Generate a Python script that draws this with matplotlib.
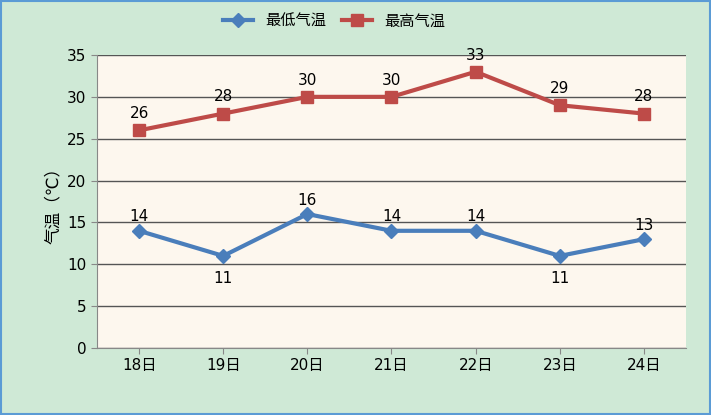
import matplotlib.pyplot as plt
from matplotlib.patches import Rectangle

plt.rcParams['font.family'] = ['DejaVu Sans', 'Noto Sans CJK SC']

days = ['18日', '19日', '20日', '21日', '22日', '23日', '24日']
low = [14, 11, 16, 14, 14, 11, 13]
high = [26, 28, 30, 30, 33, 29, 28]
low_below = [False, True, False, False, False, True, False]

fig = plt.figure(figsize=(7.11, 4.15), dpi=100, facecolor='#cfe9d6')
fig.patches.append(Rectangle((0.002, 0.002), 0.996, 0.996, transform=fig.transFigure,
                             fill=False, edgecolor='#5b9bd5', linewidth=1.5))
ax = fig.add_axes([97 / 711, 1 - 348 / 415, 589 / 711, 293 / 415])
ax.set_facecolor('#fdf7ee')

x = range(len(days))
ax.plot(x, low, color='#4a7ebb', linewidth=3, marker='D', markersize=7, label='最低气温')
ax.plot(x, high, color='#be4b48', linewidth=3, marker='s', markersize=9, label='最高气温')

for i, v in enumerate(low):
    ax.annotate(str(v), (i, v), xytext=(0, -16 if low_below[i] else 10),
                textcoords='offset points', ha='center', va='center', fontsize=11)
for i, v in enumerate(high):
    ax.annotate(str(v), (i, v), xytext=(0, 12), textcoords='offset points',
                ha='center', va='center', fontsize=11)

ax.set_xlim(-0.5, len(days) - 0.5)
ax.set_ylim(0, 35)
ax.set_yticks(range(0, 36, 5))
ax.set_xticks(list(x))
ax.set_xticklabels(days)
ax.tick_params(labelsize=11, length=4, color='#888888')
ax.grid(axis='y', color='#555555', linewidth=1)
ax.set_axisbelow(True)
for s in ['top', 'right']:
    ax.spines[s].set_visible(False)
ax.spines['left'].set_color('#888888')
ax.spines['bottom'].set_color('#888888')
ax.set_ylabel('气温（℃）', fontsize=12)

fig.legend(loc='upper center', bbox_to_anchor=(0.47, 1.0), ncol=2, frameon=False,
           fontsize=11, columnspacing=1.0)

fig.savefig('out.png', dpi=100, facecolor=fig.get_facecolor())
